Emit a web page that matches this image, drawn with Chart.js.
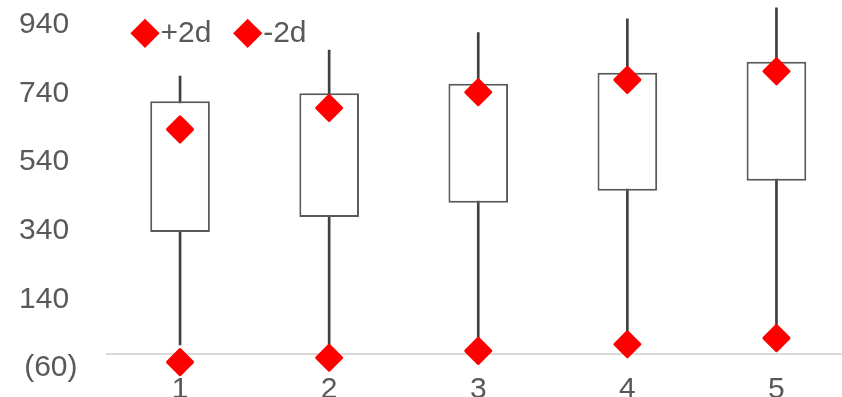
<!DOCTYPE html>
<html>
<head>
<meta charset="utf-8">
<script src="https://cdn.jsdelivr.net/npm/chart.js@4.4.1/dist/chart.umd.min.js"></script>
<style>
html,body{margin:0;padding:0;background:#fff;overflow:hidden;width:842px;height:397px}
canvas{display:block}
</style>
</head>
<body>
<canvas id="c" width="851" height="408"></canvas>
<script>
// ---- data ----
const categories = ['1', '2', '3', '4', '5'];
const whiskerLow  = [7, 0, 22, 42, 59];
const whiskerHigh = [790, 866, 917, 957, 989];
const boxBottom   = [336, 380, 421, 456, 485];
const boxTop      = [717, 740, 768, 800, 832];
const plus2d      = [635, 697, 743, 779, 804];
const minus2d     = [-43, -30, -10, 9, 27];
const yTickValues = [-60, 140, 340, 540, 740, 940];
const axisCrossValue = -20;

const TEXT = '#595959';
const RED = '#ff0000';

Chart.defaults.font.family = '"Liberation Sans", Arial, sans-serif';
Chart.defaults.font.size = 30;
Chart.defaults.color = TEXT;

const roundJoin = {
  id: 'roundJoin',
  beforeDatasetsDraw(chart) { chart.ctx.save(); chart.ctx.lineJoin = 'round'; },
  afterDatasetsDraw(chart) { chart.ctx.restore(); }
};

const LEG_BOX_W = 1;
const legendPlace = {
  id: 'legendPlace',
  afterLayout(chart) {
    const lg = chart.legend;
    if (!lg) return;
    const p = lg.options.labels.padding;
    const w = lg.width;
    lg.left = 145 - p - LEG_BOX_W / 2;
    lg.right = lg.left + w;
    lg.top = 33.3 - p - 15;
    lg.height = 120;
    lg.bottom = lg.top + lg.height;
  }
};

new Chart(document.getElementById('c'), {
  data: {
    labels: categories,
    datasets: [
      {
        type: 'line', label: '+2d', data: plus2d, showLine: false,
        pointStyle: 'rectRot', pointRadius: 12.5, pointHoverRadius: 12.5,
        backgroundColor: RED, borderColor: RED, borderWidth: 3, borderJoinStyle: 'round',
        order: 0, clip: false
      },
      {
        type: 'line', label: '-2d', data: minus2d, showLine: false,
        pointStyle: 'rectRot', pointRadius: 12.5, pointHoverRadius: 12.5,
        backgroundColor: RED, borderColor: RED, borderWidth: 3, borderJoinStyle: 'round',
        order: 0, clip: false
      },
      {
        type: 'bar', label: 'box', data: categories.map((c, i) => [boxBottom[i], boxTop[i]]),
        backgroundColor: '#ffffff', borderColor: TEXT, borderWidth: 2, borderSkipped: false,
        barPercentage: 0.4, categoryPercentage: 1, grouped: false, order: 1, clip: false
      },
      {
        type: 'bar', label: 'range', data: categories.map((c, i) => [whiskerLow[i], whiskerHigh[i]]),
        backgroundColor: '#404040', borderWidth: 0, barThickness: 2,
        grouped: false, order: 2, clip: false
      }
    ]
  },
  options: {
    responsive: false,
    animation: false,
    devicePixelRatio: 1,
    layout: { autoPadding: false, padding: { top: 4, left: 0, right: 0, bottom: 0 } },
    plugins: {
      tooltip: { enabled: false },
      legend: {
        position: 'top',
        align: 'start',
        maxHeight: 0.01,
        labels: {
          filter: (item) => item.text === '+2d' || item.text === '-2d',
          usePointStyle: true,
          boxWidth: LEG_BOX_W,
          boxHeight: 17.7,
          padding: 35.8,
          color: TEXT,
          font: { size: 30 }
        }
      }
    },
    scales: {
      x: {
        type: 'category',
        offset: true,
        grid: { display: false, drawTicks: false },
        border: { display: false },
        ticks: { color: TEXT, font: { size: 30 }, padding: 4, autoSkip: false, maxRotation: 0 },
        afterFit(s) { s.height = 40; s.paddingLeft = 0; s.paddingRight = 0; }
      },
      y: {
        type: 'linear',
        min: -60,
        max: 1000,
        afterBuildTicks(s) {
          s.ticks = yTickValues.concat([axisCrossValue]).sort((a, b) => a - b).map(v => ({ value: v }));
        },
        ticks: {
          autoSkip: false,
          padding: 28,
          color: TEXT,
          font: { size: 30 },
          callback: (v) => v === axisCrossValue ? '' : (v < 0 ? '(' + Math.abs(v) + ')' : v + ' ')
        },
        grid: {
          drawTicks: false,
          lineWidth: 2,
          color: (c) => (c.tick && c.tick.value === axisCrossValue) ? '#d9d9d9' : 'rgba(0,0,0,0)'
        },
        border: { display: false },
        afterFit(s) { s.width = 105.5; s.paddingTop = 0; s.paddingBottom = 0; }
      }
    }
  },
  plugins: [roundJoin, legendPlace]
});
</script>
</body>
</html>
